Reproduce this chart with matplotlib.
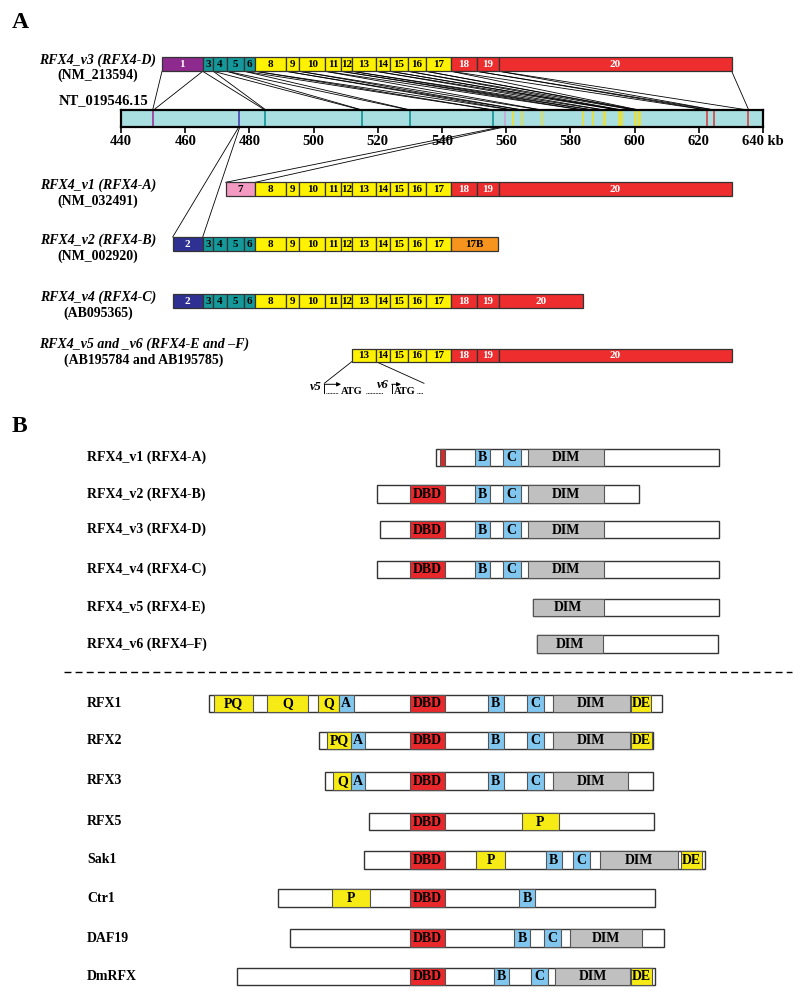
import matplotlib
matplotlib.use("Agg")
import matplotlib.pyplot as plt
from matplotlib.patches import Rectangle

plt.rcParams['font.family'] = ['Liberation Serif', 'DejaVu Serif']
plt.rcParams['font.weight'] = 'bold'

# ---------------- data: panel A ----------------
genome_ticks = [440, 460, 480, 500, 520, 540, 560, 580, 600, 620, 640]
genome_tick_labels = ['440', '460', '480', '500', '520', '540', '560', '580', '600', '620', '640 kb']
# genomic position (kb) of each exon on NT_019546.15
exon_names = ['1', '2', '3', '4', '5', '6', '7', '8', '9', '10', '11', '12', '13', '14', '15', '16', '17', '18', '19', '20']
exon_kb = [450, 476.7, 485, 515, 530, 556, 559.5, 562, 565, 571, 584, 587, 590.5, 595, 596, 600, 601.3, 622.6, 624.8, 635.4]

# transcripts: exon names and exon boundaries (transcript scale)
v3_exons = ['1', '3', '4', '5', '6', '8', '9', '10', '11', '12', '13', '14', '15', '16', '17', '18', '19', '20']
v3_edges = [162, 202.7, 213.3, 226.7, 244.3, 255.3, 286, 299.3, 325, 341, 352, 375.7, 390, 408, 426, 451, 476.5, 499.3, 731.7]
v1_exons = ['7', '8', '9', '10', '11', '12', '13', '14', '15', '16', '17', '18', '19', '20']
v1_edges = [225.7, 255.3, 286, 299.3, 325, 341, 352, 375.7, 390, 408, 426, 451, 476.5, 499.3, 731.7]
v2_exons = ['2', '3', '4', '5', '6', '8', '9', '10', '11', '12', '13', '14', '15', '16', '17', '17B']
v2_edges = [172.7, 202.7, 213.3, 226.7, 244.3, 255.3, 286, 299.3, 325, 341, 352, 375.7, 390, 408, 426, 451, 497.7]
v4_exons = ['2', '3', '4', '5', '6', '8', '9', '10', '11', '12', '13', '14', '15', '16', '17', '18', '19', '20']
v4_edges = [172.7, 202.7, 213.3, 226.7, 244.3, 255.3, 286, 299.3, 325, 341, 352, 375.7, 390, 408, 426, 451, 476.5, 499.3, 583.3]
v5_exons = ['13', '14', '15', '16', '17', '18', '19', '20']
v5_edges = [352, 375.7, 390, 408, 426, 451, 476.5, 499.3, 731.7]

transcript_labels = [
    ('RFX4_v3 (RFX4-D)', '(NM_213594)'),
    ('RFX4_v1 (RFX4-A)', '(NM_032491)'),
    ('RFX4_v2 (RFX4-B)', '(NM_002920)'),
    ('RFX4_v4 (RFX4-C)', '(AB095365)'),
    ('RFX4_v5 and _v6 (RFX4-E and \u2013F)', '(AB195784 and AB195785)'),
]

# ---------------- data: panel B ----------------
protein_names = ['RFX4_v1 (RFX4-A)', 'RFX4_v2 (RFX4-B)', 'RFX4_v3 (RFX4-D)', 'RFX4_v4 (RFX4-C)',
                 'RFX4_v5 (RFX4-E)', 'RFX4_v6 (RFX4\u2013F)',
                 'RFX1', 'RFX2', 'RFX3', 'RFX5', 'Sak1', 'Ctr1', 'DAF19', 'DmRFX']
protein_start = [436.4, 377, 379.5, 377, 533.3, 537, 208.7, 319, 324.6, 369.2, 364, 278, 290.3, 237]
protein_end = [719, 638.5, 719, 719, 719, 718, 661.5, 652.8, 652.8, 653.8, 705, 654.9, 664, 654.9]
protein_domains = [
    [('', 440, 445), ('B', 475.4, 489.7), ('C', 502.6, 520.5), ('DIM', 528.2, 603.6)],
    [('DBD', 410.3, 445.1), ('B', 475.4, 489.7), ('C', 502.6, 520.5), ('DIM', 528.2, 603.6)],
    [('DBD', 410.3, 445.1), ('B', 475.4, 489.7), ('C', 502.6, 520.5), ('DIM', 528.2, 603.6)],
    [('DBD', 410.3, 445.1), ('B', 475.4, 489.7), ('C', 502.6, 520.5), ('DIM', 528.2, 603.6)],
    [('DIM', 533.3, 603.6)],
    [('DIM', 537, 602.6)],
    [('PQ', 213.8, 252.8), ('Q', 267, 307.7), ('Q', 318, 338.5), ('A', 338.5, 353.8), ('DBD', 410.3, 445.1),
     ('B', 488, 503.6), ('C', 526.7, 543.6), ('DIM', 552.8, 629.7), ('DE', 630.8, 651.3)],
    [('PQ', 327, 351.3), ('A', 351.3, 365), ('DBD', 410.3, 445.1), ('B', 488, 503.6), ('C', 526.7, 543.6),
     ('DIM', 552.8, 629.7), ('DE', 630.8, 652)],
    [('Q', 333.3, 351.3), ('A', 351.3, 365), ('DBD', 410.3, 445.1), ('B', 488, 503.6), ('C', 526.7, 543.6),
     ('DIM', 552.8, 628.2)],
    [('DBD', 410.3, 445.1), ('P', 521.5, 559)],
    [('DBD', 410.3, 445.1), ('P', 476, 505), ('B', 546, 561.5), ('C', 573.3, 589.7), ('DIM', 600, 678),
     ('DE', 681, 701.5)],
    [('P', 332.3, 370.3), ('DBD', 410.3, 445.1), ('B', 519, 534.9)],
    [('DBD', 410.3, 445.1), ('B', 514.4, 529.7), ('C', 543.6, 560.5), ('DIM', 570.3, 642)],
    [('DBD', 410.3, 445.1), ('B', 493.8, 509.2), ('C', 530.8, 547.7), ('DIM', 555.4, 629.7), ('DE', 630.8, 652.3)],
]
protein_rows = [457.3, 493.8, 529.7, 569.3, 607.3, 643.8, 703.3, 740.5, 780.8, 821.5, 859.8, 898.2, 938.2, 976.5]

# ---------------- styles ----------------
exon_color = {'1': '#8e2a8e', '2': '#2e3192', '7': '#f49ac2', '17B': '#f7941d'}
for n in ['3', '4', '5', '6']:
    exon_color[n] = '#15989a'
for n in ['8', '9', '10', '11', '12', '13', '14', '15', '16', '17']:
    exon_color[n] = '#fff200'
for n in ['18', '19', '20']:
    exon_color[n] = '#ed2d2e'
white_text = {'1', '2', '18', '19', '20'}

genome_line_color = {'1': '#a040a0', '2': '#5050b8', '7': '#c8a8d8'}
for n in ['3', '4', '5', '6']:
    genome_line_color[n] = '#1a9a9a'
for n in ['8', '9', '10', '11', '12', '13', '14', '15', '16', '17']:
    genome_line_color[n] = '#e6e040'
for n in ['18', '19', '20']:
    genome_line_color[n] = '#d05050'

domain_color = {'': '#d42a2a', 'DBD': '#e8282b', 'B': '#80c6ee', 'C': '#80c6ee', 'A': '#80c6ee',
                'DIM': '#c0c0c0', 'PQ': '#f6eb14', 'Q': '#f6eb14', 'P': '#f6eb14', 'DE': '#f6eb14'}

W, H = 800, 999
fig = plt.figure(figsize=(W / 100, H / 100), dpi=100)

# genomic axis (real data scale in kb)
gx0, gx1, gy0, gy1 = 121, 763, 110, 127
gax = fig.add_axes([gx0 / W, 1 - gy1 / H, (gx1 - gx0) / W, (gy1 - gy0) / H])
gax.set_xlim(440, 640)
gax.set_ylim(0, 1)
gax.set_facecolor('#aadfe2')
gax.set_yticks([])
gax.set_xticks(genome_ticks)
gax.set_xticklabels(genome_tick_labels, fontsize=10.5, fontweight='bold')
gax.tick_params(axis='x', length=4, width=1.2, pad=2)
for s in gax.spines.values():
    s.set_linewidth(1.6)
for n, kb in zip(exon_names, exon_kb):
    w = 2.0 if n in ('16', '17', '13', '14') else 1.3
    gax.axvline(kb, color=genome_line_color[n], lw=w)

# overlay axes in figure pixel units
ov = fig.add_axes([0, 0, 1, 1])
ov.set_xlim(0, W)
ov.set_ylim(H, 0)
ov.axis('off')
ov.patch.set_alpha(0)


def gpx(kb):
    disp = gax.transData.transform((kb, 0))
    return ov.transData.inverted().transform(disp)[0]


kbmap = dict(zip(exon_names, exon_kb))
TH = 14


def draw_transcript(names, edges, ytop, h=TH):
    for i, n in enumerate(names):
        x0, x1 = edges[i], edges[i + 1]
        ov.add_patch(Rectangle((x0, ytop), x1 - x0, h, facecolor=exon_color[n],
                               edgecolor='#333333', lw=0.9, zorder=3))
        ov.text((x0 + x1) / 2, ytop + h / 2 + 0.5, n, ha='center', va='center', fontsize=8,
                fontweight='bold', color='white' if n in white_text else 'black', zorder=4)


ytops = [57.3, 182.3, 237, 294, 349]
draw_transcript(v3_exons, v3_edges, ytops[0])
draw_transcript(v1_exons, v1_edges, ytops[1])
draw_transcript(v2_exons, v2_edges, ytops[2])
draw_transcript(v4_exons, v4_edges, ytops[3])
draw_transcript(v5_exons, v5_edges, ytops[4], h=12.5)

# connector lines v3 -> genome
for i, n in enumerate(v3_exons):
    g = kbmap[n]
    ov.plot([v3_edges[i], gpx(g - 0.15)], [ytops[0] + TH, gy0], color='black', lw=0.6, zorder=2)
    ov.plot([v3_edges[i + 1], gpx(g + 0.15)], [ytops[0] + TH, gy0], color='black', lw=0.6, zorder=2)
# v1 exon 7 -> genome (below bar)
ov.plot([v1_edges[0], gpx(kbmap['7'] - 1.2)], [ytops[1], gy1], color='black', lw=0.6, zorder=2)
ov.plot([v1_edges[1], gpx(kbmap['7'] - 0.2)], [ytops[1], gy1], color='black', lw=0.6, zorder=2)
# v2 exon 2 -> genome
ov.plot([v2_edges[0], gpx(kbmap['2'])], [ytops[2], gy1], color='black', lw=0.6, zorder=2)
ov.plot([v2_edges[1], gpx(kbmap['2'] + 0.3)], [ytops[2], gy1], color='black', lw=0.6, zorder=2)

# labels panel A
label_x = [98, 98, 98, 98, 144]
label_y = [60, 185.5, 240.5, 297.5, 344.5]
for (l1, l2), x, y in zip(transcript_labels, label_x, label_y):
    ov.text(x, y, l1, ha='center', va='center', fontsize=10, fontstyle='italic', fontweight='bold')
    ov.text(x, y + 15.5, l2, ha='center', va='center', fontsize=10, fontweight='bold')
ov.text(148, 101, 'NT_019546.15', ha='right', va='center', fontsize=10.5, fontweight='bold')

# v5 / v6 inset
ov.plot([v5_edges[0], 324.3], [ytops[4] + 12.5, 383.3], color='black', lw=0.6)
ov.plot([v5_edges[1], 424], [ytops[4] + 12.5, 383.3], color='black', lw=0.6)
ov.text(322, 387, 'v5', ha='right', va='center', fontsize=9, fontstyle='italic', fontweight='bold')
ov.text(389, 384.5, 'v6', ha='right', va='center', fontsize=9, fontstyle='italic', fontweight='bold')
for ax0, ax1 in [(324.3, 341), (391.7, 401)]:
    ov.plot([ax0, ax0], [392.5, 384.3], color='black', lw=0.7)
    ov.annotate('', xy=(ax1, 384.3), xytext=(ax0, 384.3),
                arrowprops=dict(arrowstyle='-|>', lw=0.7, color='black', mutation_scale=6,
                                shrinkA=0, shrinkB=0))
for d0, d1 in [(325.5, 337.5), (365.5, 383), (417, 423)]:
    ov.plot([d0, d1], [393.3, 393.3], color='black', lw=0.7, ls=(0, (0.8, 0.8)))
ov.text(351.3, 392, 'ATG', ha='center', va='center', fontsize=7.5, fontweight='bold')
ov.text(405, 392, 'ATG', ha='center', va='center', fontsize=7.5, fontweight='bold')

# panel letters
ov.text(20, 22, 'A', ha='center', va='center', fontsize=17, fontweight='bold')
ov.text(19, 426, 'B', ha='center', va='center', fontsize=17, fontweight='bold')

# ---------------- panel B ----------------
PH = 17.5
for name, x0, x1, doms, yc in zip(protein_names, protein_start, protein_end, protein_domains, protein_rows):
    ov.text(87, yc, name, ha='left', va='center', fontsize=10, fontweight='bold')
    ov.add_patch(Rectangle((x0, yc - PH / 2), x1 - x0, PH, facecolor='white',
                           edgecolor='#333333', lw=1.0, zorder=3))
    for lab, d0, d1 in doms:
        ov.add_patch(Rectangle((d0, yc - PH / 2), d1 - d0, PH, facecolor=domain_color[lab],
                               edgecolor='#555555', lw=0.8, zorder=4))
        if lab:
            ov.text((d0 + d1) / 2, yc + 0.5, lab, ha='center', va='center', fontsize=10,
                    fontweight='bold', color='black', zorder=5)

ov.plot([64, 792], [671.7, 671.7], color='black', lw=1.0, ls=(0, (5, 3)))

fig.savefig('out.png', dpi=100)
